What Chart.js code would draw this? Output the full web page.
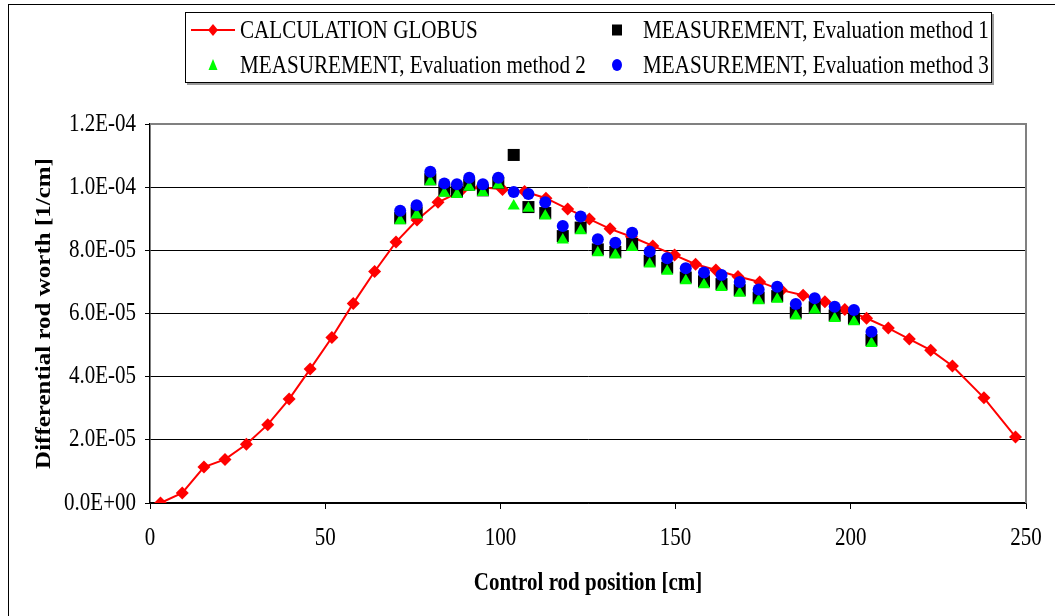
<!DOCTYPE html>
<html>
<head>
<meta charset="utf-8">
<script src="https://cdn.jsdelivr.net/npm/chart.js@4.4.1/dist/chart.umd.min.js"></script>
<style>
  html, body { margin:0; padding:0; background:#fff; overflow:hidden; width:1055px; height:616px; }
  #wrap { position:absolute; left:0; top:0; width:1055px; height:616px; }
  #frame { position:absolute; left:8px; top:4px; width:1200px; height:800px; border:1px solid #000; }
  canvas { position:absolute; left:0; top:0; }
  #legend { position:absolute; left:185px; top:12px; width:805px; height:69px; border:1px solid #000; box-shadow:2px 2px 0 #9a9a9a; background:#fff; }
  .lt { position:absolute; height:30px; line-height:30px; font-family:"Liberation Serif", "Times New Roman", serif; font-size:25px; color:#000; white-space:nowrap; transform:scaleX(0.845); transform-origin:0 50%; }
  .lm { position:absolute; }
</style>
</head>
<body>
<div id="wrap">
  <div id="frame"></div>
  <canvas id="c" width="1055" height="616"></canvas>
  <div id="legend"></div>
</div>
<script>
// ---------- data ----------
const seriesNames = [
  "CALCULATION GLOBUS",
  "MEASUREMENT, Evaluation method 1",
  "MEASUREMENT, Evaluation method 2",
  "MEASUREMENT, Evaluation method 3"
];

const calcX = [3.0, 9.2, 15.4, 21.4, 27.5, 33.6, 39.7, 45.7, 51.9, 58.0, 64.1, 70.2, 76.2, 82.2, 88.5, 94.5, 100.6, 106.9, 113.0, 119.2,
               125.4, 131.3, 137.4, 143.5, 149.7, 155.7, 161.5, 167.8, 174.0, 180.2, 186.4, 192.6, 198.3, 204.5, 210.7, 216.7, 222.8, 229.0, 238.0, 247.0];
const calcY = [0, 0.32e-5, 1.14e-5, 1.38e-5, 1.86e-5, 2.48e-5, 3.29e-5, 4.24e-5, 5.24e-5, 6.32e-5, 7.33e-5, 8.26e-5, 8.96e-5, 9.52e-5, 9.86e-5, 10.0e-5, 9.93e-5, 9.86e-5, 9.65e-5, 9.31e-5,
               8.99e-5, 8.68e-5, 8.43e-5, 8.14e-5, 7.85e-5, 7.56e-5, 7.38e-5, 7.17e-5, 7.00e-5, 6.74e-5, 6.58e-5, 6.37e-5, 6.13e-5, 5.85e-5, 5.54e-5, 5.19e-5, 4.84e-5, 4.34e-5, 3.33e-5, 2.09e-5];

const measX = [71.4, 76.1, 80.0, 84.0, 87.6, 91.1, 95.0, 99.4, 103.8, 108.0, 112.8, 117.8, 122.9, 127.8, 132.8, 137.6, 142.6, 147.6, 152.9, 158.1,
               163.1, 168.3, 173.7, 179.0, 184.3, 189.7, 195.4, 200.9, 205.9];
const meth1Y = [9.02e-5, 9.20e-5, 10.25e-5, 9.90e-5, 9.86e-5, 10.08e-5, 9.90e-5, 10.14e-5, 11.02e-5, 9.37e-5, 9.18e-5, 8.45e-5, 8.72e-5, 8.03e-5, 7.95e-5, 8.20e-5, 7.67e-5, 7.45e-5, 7.14e-5, 7.02e-5,
                6.93e-5, 6.74e-5, 6.50e-5, 6.55e-5, 6.03e-5, 6.20e-5, 5.94e-5, 5.84e-5, 5.16e-5];
const meth2Y = [8.94e-5, 9.12e-5, 10.17e-5, 9.81e-5, 9.77e-5, 10.00e-5, 9.83e-5, 10.07e-5, 9.40e-5, 9.33e-5, 9.09e-5, 8.33e-5, 8.62e-5, 7.92e-5, 7.85e-5, 8.09e-5, 7.57e-5, 7.34e-5, 7.04e-5, 6.91e-5,
                6.82e-5, 6.64e-5, 6.40e-5, 6.45e-5, 5.92e-5, 6.11e-5, 5.84e-5, 5.74e-5, 5.05e-5];
const meth3Y = [9.25e-5, 9.43e-5, 10.49e-5, 10.12e-5, 10.09e-5, 10.30e-5, 10.09e-5, 10.30e-5, 9.85e-5, 9.78e-5, 9.52e-5, 8.77e-5, 9.07e-5, 8.35e-5, 8.24e-5, 8.56e-5, 7.96e-5, 7.75e-5, 7.43e-5, 7.30e-5,
                7.22e-5, 7.00e-5, 6.76e-5, 6.85e-5, 6.30e-5, 6.48e-5, 6.21e-5, 6.11e-5, 5.42e-5];

const xTicks = [0, 50, 100, 150, 200, 250];
const yTicks = [0, 2e-5, 4e-5, 6e-5, 8e-5, 1.0e-4, 1.2e-4];
const xTitle = "Control rod position [cm]";
const yTitle = "Differential rod worth [1/cm]";

// ---------- helpers ----------
const pts = (xs, ys) => xs.map((x, i) => ({x: x, y: ys[i]}));
function fmtE(v) {
  let s = Number(v).toExponential(1).toUpperCase();
  return s.replace(/E([+-])(\d)$/, "E$10$2");
}

// horizontal squash of rendered text (the reference text is narrow)
const SQUASH = 0.84;
const origFill = CanvasRenderingContext2D.prototype.fillText;
CanvasRenderingContext2D.prototype.fillText = function (t, x, y, mw) {
  const m = this.getTransform();
  const p = m.transformPoint(new DOMPoint(x, y));
  this.save();
  this.setTransform(new DOMMatrix().translate(p.x, p.y).scale(SQUASH, 1).translate(-p.x, -p.y).multiply(m));
  if (mw !== undefined) origFill.call(this, t, x, y, mw); else origFill.call(this, t, x, y);
  this.restore();
};

const frameLines = {
  id: 'frameLines',
  beforeDatasetsDraw(chart) {
    const {ctx, chartArea: a} = chart;
    ctx.save();
    ctx.strokeStyle = '#808080';
    ctx.lineWidth = 2;
    ctx.beginPath();
    ctx.moveTo(a.left, a.top);
    ctx.lineTo(a.right, a.top);
    ctx.lineTo(a.right, a.bottom);
    ctx.stroke();
    ctx.restore();
  }
};

const tickFont = {family: "'Liberation Serif', 'Times New Roman', serif", size: 25};
const titleFont = {family: "'Liberation Serif', 'Times New Roman', serif", size: 25, weight: 'bold'};

new Chart(document.getElementById('c'), {
  type: 'scatter',
  data: {
    datasets: [
      { label: seriesNames[0], data: pts(calcX, calcY), showLine: true, borderColor: '#ff0000', backgroundColor: '#ff0000',
        borderWidth: 2, pointStyle: 'rectRot', pointRadius: 6.5, pointBorderWidth: 0, tension: 0, order: 4 },
      { label: seriesNames[1], data: pts(measX, meth1Y), borderColor: '#000000', backgroundColor: '#000000',
        pointStyle: 'rect', pointRadius: 8.5, pointBorderWidth: 0, order: 3 },
      { label: seriesNames[2], data: pts(measX, meth2Y), borderColor: '#00ff00', backgroundColor: '#00ff00',
        pointStyle: 'triangle', pointRadius: 7, pointBorderWidth: 0, order: 2 },
      { label: seriesNames[3], data: pts(measX, meth3Y), borderColor: '#0000ff', backgroundColor: '#0000ff',
        pointStyle: 'circle', pointRadius: 6, pointBorderWidth: 0, order: 1 }
    ]
  },
  options: {
    responsive: false,
    animation: false,
    devicePixelRatio: 1,
    layout: { padding: { left: 0, right: 29, top: 124, bottom: 0 } },
    plugins: { legend: { display: false }, tooltip: { enabled: false } },
    scales: {
      x: {
        type: 'linear', min: 0, max: 250,
        afterFit(s) { s.height = 113; s.paddingRight = 0; s.paddingLeft = 0; },
        afterBuildTicks(s) { s.ticks = xTicks.map(v => ({value: v})); },
        ticks: { font: tickFont, color: '#000', padding: 14, maxRotation: 0, autoSkip: false },
        grid: { drawOnChartArea: false, drawTicks: true, tickLength: 6, color: '#000', lineWidth: 1 },
        border: { display: true, color: '#000', width: 1.5 },
        title: { display: true, text: xTitle, font: titleFont, color: '#000', padding: { top: 0, bottom: 17 } }
      },
      y: {
        type: 'linear', min: 0, max: 1.2e-4,
        afterFit(s) { s.width = 150; s.paddingTop = 0; s.paddingBottom = 0; },
        afterBuildTicks(s) { s.ticks = yTicks.map(v => ({value: v})); },
        ticks: { font: tickFont, color: '#000', padding: 9, callback: (v) => fmtE(v) },
        grid: { drawOnChartArea: true, drawTicks: true, tickLength: 5, color: '#000', lineWidth: 1 },
        border: { display: true, color: '#000', width: 1.5 },
        title: { display: true, text: yTitle, font: titleFont, color: '#000', padding: { top: 30, bottom: 0 } }
      }
    }
  },
  plugins: [frameLines]
});

// ---------- HTML legend ----------
const legend = document.getElementById('legend');
const svgNS = 'http://www.w3.org/2000/svg';
function marker(kind, cx, cy) {
  const w = 50, h = 20;
  const svg = document.createElementNS(svgNS, 'svg');
  svg.setAttribute('width', w); svg.setAttribute('height', h);
  svg.setAttribute('class', 'lm');
  svg.style.left = (cx - w / 2) + 'px';
  svg.style.top = (cy - h / 2) + 'px';
  const c = w / 2, m = h / 2;
  let html = '';
  if (kind === 0) {
    html = `<line x1="${c-22}" y1="${m}" x2="${c+22}" y2="${m}" stroke="#ff0000" stroke-width="2"/>` +
           `<polygon points="${c},${m-6} ${c+5},${m} ${c},${m+6} ${c-5},${m}" fill="#ff0000"/>`;
  } else if (kind === 1) {
    html = `<rect x="${c-5}" y="${m-5.5}" width="10" height="11" fill="#000"/>`;
  } else if (kind === 2) {
    html = `<polygon points="${c},${m-6} ${c+4.5},${m+5} ${c-4.5},${m+5}" fill="#00ff00"/>`;
  } else {
    html = `<ellipse cx="${c}" cy="${m}" rx="5" ry="6" fill="#0000ff"/>`;
  }
  svg.innerHTML = html;
  legend.appendChild(svg);
}
function text(t, left, cy) {
  const d = document.createElement('div');
  d.className = 'lt';
  d.textContent = t;
  d.style.left = left + 'px';
  d.style.top = (cy - 15) + 'px';
  legend.appendChild(d);
}
const rowY = [17, 52];
const colMarker = [27, 431];
const colText = [54, 457];
const cells = [[0, 0, 0], [1, 0, 1], [2, 1, 0], [3, 1, 1]]; // series, row, col
cells.forEach(([s, r, c]) => {
  marker(s, colMarker[c], rowY[r]);
  text(seriesNames[s], colText[c], rowY[r]);
});
</script>
</body>
</html>
